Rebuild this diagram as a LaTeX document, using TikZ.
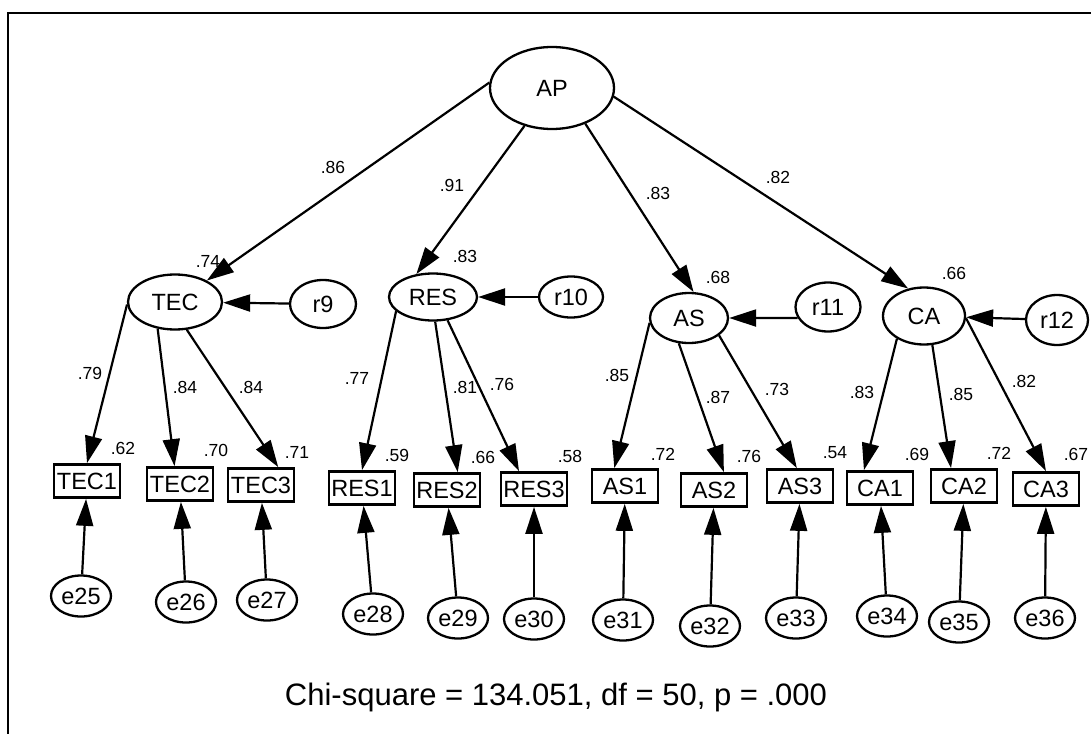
\documentclass[tikz,border=0pt]{standalone}
\usepackage{fontspec}
\setmainfont{Liberation Sans}
\usetikzlibrary{arrows.meta,shapes.geometric}

\begin{document}
\begin{tikzpicture}[x=1pt,y=-1pt,
  latent/.style={ellipse,draw,line width=2.3pt,inner sep=0pt,
    font=\fontsize{23.5}{23.5}\selectfont},
  item/.style={rectangle,draw,line width=2.7pt,minimum width=66pt,
    minimum height=33pt,inner sep=0pt,font=\fontsize{23.5}{23.5}\selectfont},
  errvar/.style={ellipse,draw,line width=2.3pt,minimum width=60pt,
    minimum height=41pt,inner sep=0pt,font=\fontsize{23.5}{23.5}\selectfont},
  path/.style={line width=2.2pt,-{Triangle[length=27pt,width=17pt]}},
  coef/.style={inner sep=0pt,font=\fontsize{17.5}{17.5}\selectfont}]
  \useasboundingbox (0,0) rectangle (1091,733);

  % Outer frame (cut at the right and bottom).
  \draw[line width=2.2pt] (8,740) -- (8,13) -- (1100,13);

  % Second-order factor, first-order factors and their disturbances.
  \node[latent,minimum width=124pt,minimum height=82pt] (AP) at (552,88) {AP};
  \node[latent,minimum width=94pt,minimum height=55pt] (TEC) at (175,302) {TEC};
  \node[latent,minimum width=88pt,minimum height=47pt] (RES) at (433,297) {RES};
  \node[latent,minimum width=78pt,minimum height=50pt] (AS) at (689,318) {AS};
  \node[latent,minimum width=82pt,minimum height=57pt] (CA) at (924,316) {CA};
  \node[latent,minimum width=66pt,minimum height=48pt] (r9) at (323,304) {r9};
  \node[latent,minimum width=64pt,minimum height=41pt] (r10) at (571,297) {r10};
  \node[latent,minimum width=65pt,minimum height=49pt] (r11) at (828,307) {r11};
  \node[latent,minimum width=62pt,minimum height=50pt] (r12) at (1057,320) {r12};

  \foreach \n/\x/\y in {TEC1/87/481,TEC2/180/484,TEC3/261/485,
    RES1/362/488,RES2/447/490,RES3/534/489,
    AS1/625/486,AS2/714/490,AS3/800/486,
    CA1/880/488,CA2/964/486,CA3/1046/489}
    \node[item] (\n) at (\x,\y) {\n};

  \draw[path] (AP.175) -- (TEC.34);
  \draw[path] (AP.234) -- (RES.126);
  \draw[path] (AP.313) -- (AS.80);
  \draw[path] (AP.352) -- (CA.120);

  \draw[path] (r9) -- (TEC);
  \draw[path] (r10) -- (RES);
  \draw[path] (r11.200) -- (AS.east);
  \draw[path] (r12) -- (CA);

  \foreach \f/\a/\t/\b in {TEC/183/TEC1/north,TEC/237/TEC2/107,TEC/293/TEC3/46,
    RES/201/RES1/north,RES/275/RES2/59,RES/302/RES3/130,
    AS/187/AS1/121,AS/248/AS2/61,AS/330/AS3/100,
    CA/220/CA1/132,CA/286/CA2/126,CA/357/CA3/north}
    \draw[path] (\f.\a) -- (\t.\b);

  % Measurement errors.
  \foreach \e/\x/\y/\t in {25/81/596/TEC1,26/186/602/TEC2,27/267/600/TEC3,
    28/373/614/RES1,29/458/618/RES2,30/534/619/RES3,
    31/623/620/AS1,32/710/626/AS2,33/796/618/AS3,
    34/887/616/CA1,35/959/622/CA2,36/1045/618/CA3}{
    \node[errvar] (e\e) at (\x,\y) {e\e};
    \draw[path] (e\e) -- (\t);
  }

  % Standardised estimates and squared multiple correlations.
  \foreach \v/\x/\y [count=\i] in {.86/333/167,.91/452/185,.83/658/193,.82/778/177,
    .74/208/261,.83/465/256,.68/718/277,.66/954/273,
    .79/90/373,.84/185/387,.84/251/387,
    .77/357/378,.81/465/387,.76/502/384,
    .85/617/375,.87/718/397,.73/777/389,
    .83/862/392,.85/961/394,.82/1024/381,
    .62/123/448,.70/216/450,.71/297/452,
    .59/397/455,.66/483/457,.58/570/456,
    .72/663/454,.76/749/456,.54/835/453,
    .69/917/454,.72/999/453,.67/1076/454}
    \node[coef] (c\i) at (\x,\y) {\v};

  \node[font=\fontsize{31}{31}\selectfont] (fit) at (556,697)
    {Chi-square = 134.051, df = 50, p = .000};
\end{tikzpicture}
\end{document}
